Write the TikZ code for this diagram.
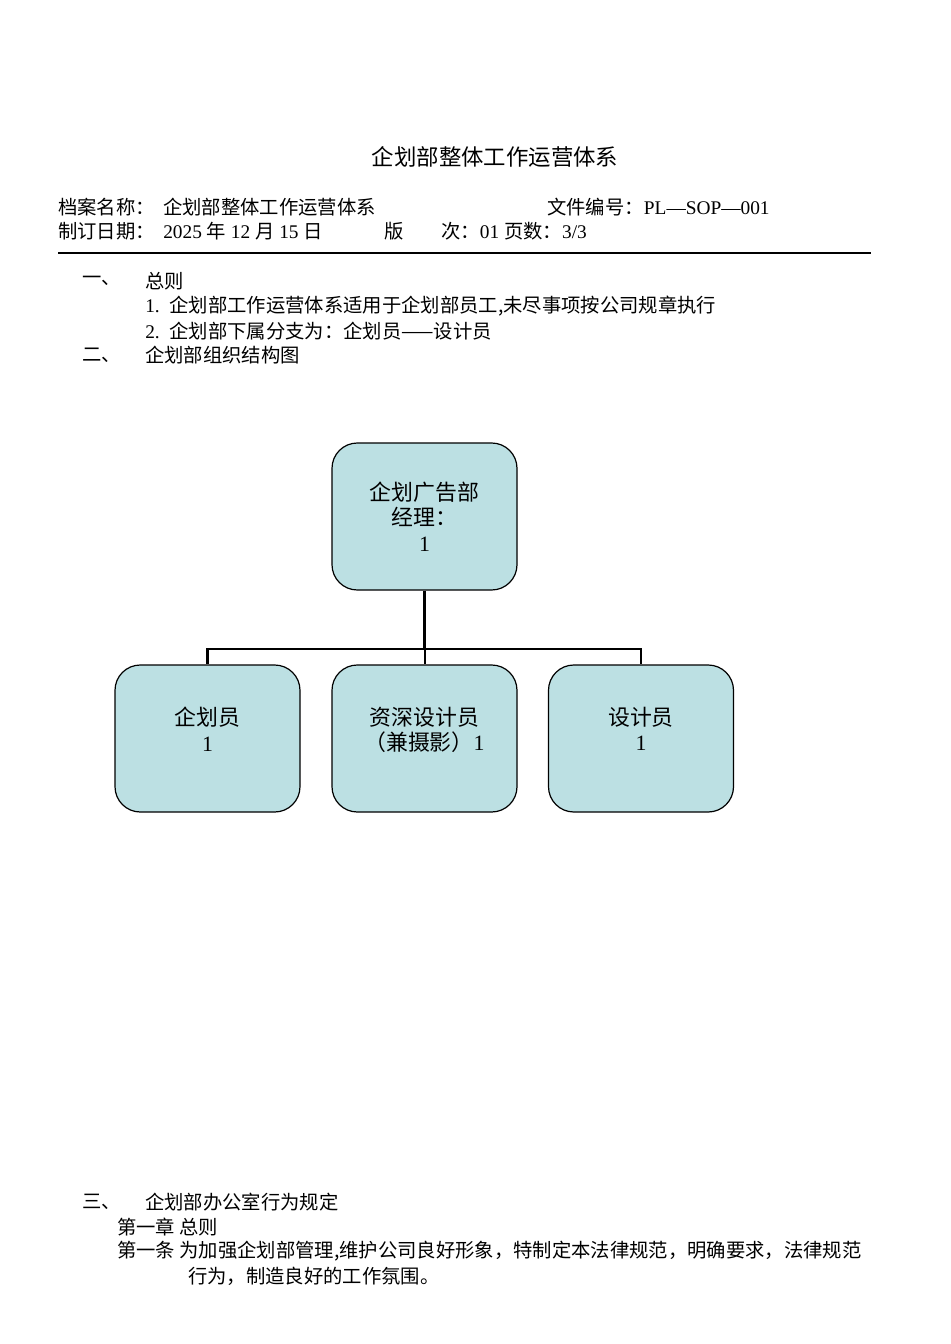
\documentclass[tikz,border=0pt]{standalone}
\usepackage{fontspec}
\setmainfont{Liberation Serif}
\newfontfamily\cjk{Noto Sans CJK SC}
\definecolor{boxfill}{HTML}{BCE0E3}
\begin{document}
\begin{tikzpicture}[x=0.75pt,y=-0.75pt,
  txt/.style={anchor=west,inner sep=0pt,font=\fontsize{14.5}{17}\selectfont},
  orgbox/.style={draw=black,line width=0.9pt,fill=boxfill,rounded corners=19pt,
     minimum width=138.75pt,minimum height=110.25pt,align=center,
     font=\fontsize{16.4}{19}\selectfont},
  conn/.style={line width=2.2pt}]
\useasboundingbox (0,0) rectangle (950,1344);
% title
\node[inner sep=0pt,font=\fontsize{16.8}{20}\selectfont\cjk] (title) at (495,157) {企划部整体工作运营体系};
% header
\node[txt] (h1) at (58,207) {\cjk 档案名称：};
\node[txt] (h2) at (163,207) {\cjk 企划部整体工作运营体系};
\node[txt] (h3) at (547,207) {{\cjk 文件编号：}PL—SOP—001};
\node[txt] (h4) at (58,231) {\cjk 制订日期：};
\node[txt] (h5) at (163,231) {2025 {\cjk 年} 12 {\cjk 月} 15 {\cjk 日}};
\node[txt] (h6) at (384,231) {\cjk 版};
\node[txt] (h7) at (441,231) {{\cjk 次：}01 {\cjk 页数：}3/3};
\coordinate (r1) at (58,253);
\coordinate (r2) at (871,253);
\draw[line width=1.4pt] (r1) -- (r2);
% section 1
\node[txt] (s1n) at (82,281) {\cjk 一、};
\node[txt] (s1t) at (145,281) {\cjk 总则};
\node[txt] (s1a) at (145,306) {1.\ \ {\cjk 企划部工作运营体系适用于企划部员工,未尽事项按公司规章执行}};
\node[txt] (s1b) at (145,331) {2.\ \ {\cjk 企划部下属分支为：企划员——设计员}};
\node[txt] (s2n) at (82,355) {\cjk 二、};
\node[txt] (s2t) at (145,355) {\cjk 企划部组织结构图};
% org chart
\node[orgbox] (top) at (424.5,516.5) {{\cjk 企划广告部}\\{\cjk 经理：}\hspace*{1.5em}\\1};
\node[orgbox] (b1) at (207.5,738.5) {{\cjk 企划员}\\1\\[-5pt]\mbox{}};
\node[orgbox] (b2) at (424.5,738.5) {{\cjk 资深设计员}\\{\cjk （兼摄影）}1\\[-5pt]\mbox{}};
\node[orgbox] (b3) at (641,738.5) {{\cjk 设计员}\\1\\[-5pt]\mbox{}};
\coordinate (j) at (424.5,649);
\draw[conn] (top.south) -- (j);
\draw[conn] (b1.north) |- (j) -| (b3.north);
\draw[line width=1.5pt] (j) -- (b2.north);
% section 3
\node[txt] (s3n) at (82,1202) {\cjk 三、};
\node[txt] (s3t) at (145,1202) {\cjk 企划部办公室行为规定};
\node[txt] (c1) at (117,1227) {\cjk 第一章 总则};
\node[txt] (c2) at (117,1251) {\cjk 第一条 为加强企划部管理,维护公司良好形象，特制定本法律规范，明确要求，法律规范};
\node[txt] (c3) at (188,1276) {\cjk 行为，制造良好的工作氛围。};
\end{tikzpicture}
\end{document}
